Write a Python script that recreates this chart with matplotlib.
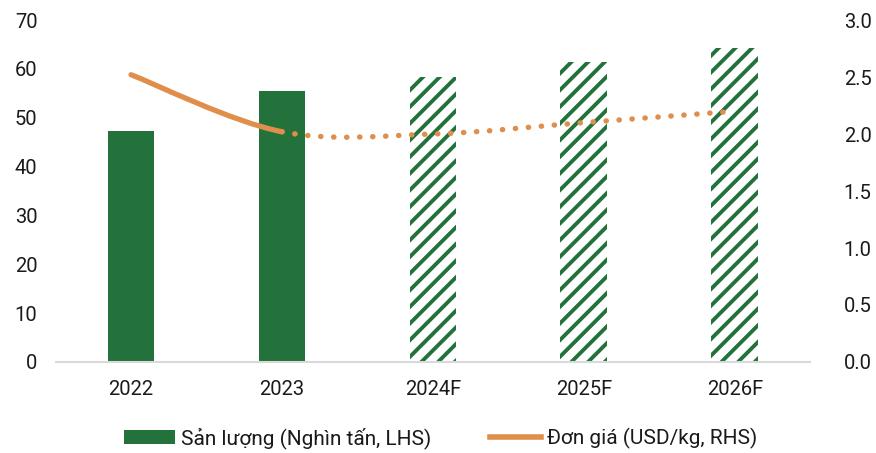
import numpy as np
import matplotlib as mpl
import matplotlib.pyplot as plt
from matplotlib.path import Path
from matplotlib.patches import PathPatch

mpl.rcParams["font.family"] = ["Roboto", "DejaVu Sans"]
mpl.rcParams["hatch.linewidth"] = 2.8

years = ["2022", "2023", "2024F", "2025F", "2026F"]
san_luong = [47.3, 55.5, 58.3, 61.4, 64.3]      # nghìn tấn (LHS)
don_gia = [2.52, 2.02, 2.0, 2.1, 2.2]           # USD/kg (RHS)
is_forecast = [False, False, True, True, True]

GREEN = "#23723C"
ORANGE = "#E08E4B"


def smooth_path(xs, ys, start, end):
    # kiểu đường làm mịn của Excel: Bezier bậc 3 qua các điểm dữ liệu
    pts = np.column_stack([xs, ys])
    n = len(pts)
    verts = [pts[start]]
    codes = [Path.MOVETO]
    for i in range(start, end):
        p0 = pts[max(i - 1, 0)]
        p1 = pts[i]
        p2 = pts[i + 1]
        p3 = pts[min(i + 2, n - 1)]
        c1 = p1 + (p2 - p0) / 6
        c2 = p2 - (p3 - p1) / 6
        verts += [c1, c2, p2]
        codes += [Path.CURVE4] * 3
    return Path(verts, codes)


fig = plt.figure(figsize=(8.76, 4.53), dpi=100)
ax = fig.add_axes([0.0634, 0.2009, 0.8616, 0.7549])
ax2 = ax.twinx()

x = np.arange(len(years))
for xi, v, fc in zip(x, san_luong, is_forecast):
    if fc:
        ax.bar(xi, v, width=0.31, color="white", edgecolor=GREEN, hatch="//", linewidth=0, zorder=2)
    else:
        ax.bar(xi, v, width=0.31, color=GREEN, linewidth=0, zorder=2)

ax.set_ylim(0, 70)
ax.set_yticks(range(0, 71, 10))
ax.set_xlim(-0.5, len(years) - 0.5)
ax.set_xticks(x)
ax.set_xticklabels(years)

ax2.set_ylim(0, 3.0)
ax2.set_yticks(np.arange(0, 3.01, 0.5))
ax2.set_yticklabels([f"{t:.1f}" for t in np.arange(0, 3.01, 0.5)])

# 2022-2023 nét liền, dự phóng nét chấm
solid = PathPatch(smooth_path(x, don_gia, 0, 1), fill=False, edgecolor=ORANGE,
                  linewidth=3.8, capstyle="round", joinstyle="round")
dotted = PathPatch(smooth_path(x, don_gia, 1, len(years) - 1), fill=False, edgecolor=ORANGE,
                   linewidth=3.9, linestyle=(0, (0.05, 2.35)), capstyle="round")
ax2.add_patch(solid)
ax2.add_patch(dotted)

for a in (ax, ax2):
    for s in a.spines.values():
        s.set_visible(False)
    a.tick_params(length=0, labelsize=14.5, colors="#1a1a1a")
ax.spines["bottom"].set_visible(True)
ax.spines["bottom"].set_color("#D9D9D9")
ax.spines["bottom"].set_linewidth(1.5)
ax.tick_params(axis="y", pad=13)
ax.tick_params(axis="x", pad=13)
ax2.tick_params(axis="y", pad=24)

handles = [
    mpl.patches.Patch(facecolor=GREEN, edgecolor="none", label="Sản lượng (Nghìn tấn, LHS)"),
    mpl.lines.Line2D([], [], color=ORANGE, linewidth=4, label="Đơn giá (USD/kg, RHS)"),
]
fig.legend(handles=handles, loc="center", bbox_to_anchor=(0.503, 0.033), ncol=2, frameon=False,
           fontsize=15, handlelength=2.45, handleheight=0.63, handletextpad=0.3,
           columnspacing=2.8, labelcolor="#1a1a1a")

fig.savefig("out.png", dpi=100)
